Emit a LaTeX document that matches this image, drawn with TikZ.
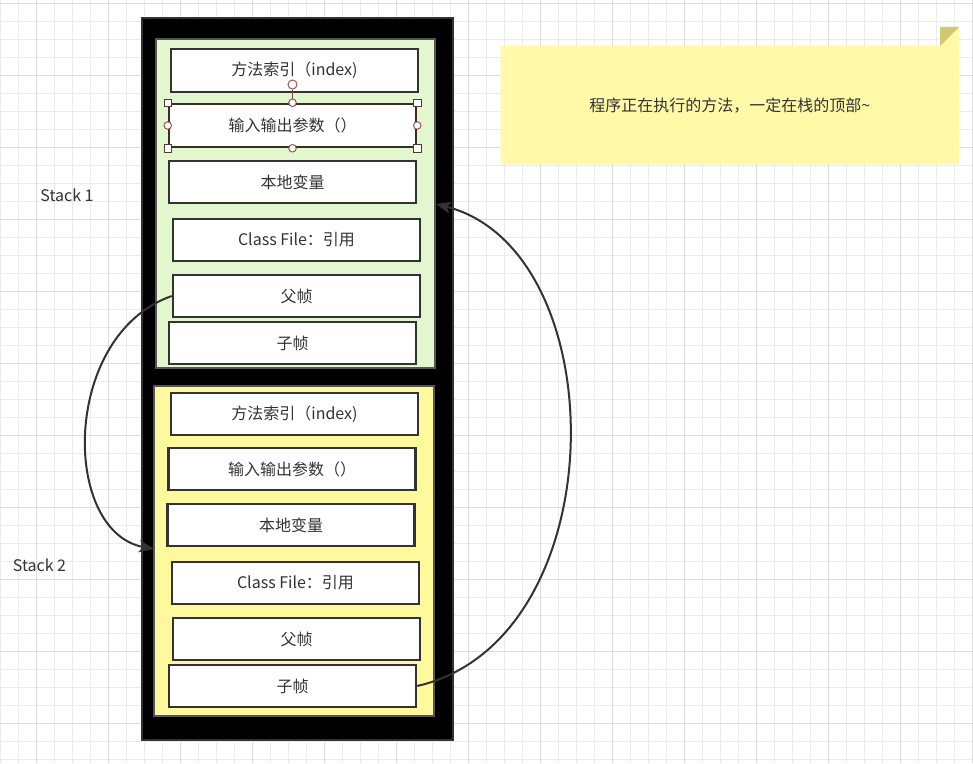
\documentclass[tikz,border=0pt]{standalone}
\usepackage{fontspec}
\setmainfont{Noto Sans CJK SC}
\usetikzlibrary{arrows.meta}
\definecolor{gridminor}{HTML}{EBEBEB}
\definecolor{gridmajor}{HTML}{DDDDDD}
\definecolor{boxline}{HTML}{333333}
\definecolor{txt}{HTML}{333333}
\definecolor{greenfill}{HTML}{E3F7CF}
\definecolor{yellowfill}{HTML}{FFF99E}
\definecolor{panelline}{HTML}{555555}
\definecolor{notefill}{HTML}{FFF9A8}
\definecolor{notefold}{HTML}{D2C772}
\definecolor{selline}{HTML}{3B2B25}
\definecolor{handlecol}{HTML}{9A5555}
\definecolor{conncol}{HTML}{333333}
\begin{document}
\begin{tikzpicture}[x=1pt,y=-1pt,
  every node/.style={font=\fontsize{16}{19}\selectfont, text=txt},
  gmin/.style={draw=gridminor, line width=1pt},
  gmaj/.style={draw=gridmajor, line width=1pt},
  frame/.style={draw=boxline, fill=black, line width=1.5pt, minimum width=311pt, minimum height=722pt, inner sep=0pt},
  panel/.style={draw=panelline, line width=2pt, minimum width=280pt, minimum height=330pt, inner sep=0pt},
  cell/.style={draw=boxline, fill=white, line width=2.5pt, minimum width=247pt, minimum height=42pt, inner sep=0pt},
  handlecirc/.style={circle, draw=handlecol, fill=white, line width=1pt, minimum size=7.5pt, inner sep=0pt},
  handlesq/.style={rectangle, draw=selline!70!handlecol, fill=white, line width=1pt, minimum size=7.5pt, inner sep=0pt},
  conn/.style={draw=conncol, line width=2pt, -{Stealth[length=15pt,width=12pt,inset=4pt]}},
  label/.style={inner sep=0pt}
]
\useasboundingbox (0,0) rectangle (973,763);
\fill[white] (0,0) rectangle (973,763);
% grid
\foreach \k in {0,...,54} \draw[gmin] ({0.5+18*\k},0) -- ({0.5+18*\k},763);
\foreach \k in {0,...,42} \draw[gmin] (0,{3.3+18*\k}) -- (973,{3.3+18*\k});
\foreach \k in {0,...,13} \draw[gmaj] ({36.5+72*\k},0) -- ({36.5+72*\k},763);
\foreach \k in {0,...,10} \draw[gmaj] (0,{3.3+72*\k}) -- (973,{3.3+72*\k});

% outer frame and panels
\node[frame] (frame) at (297.5,379) {};
\node[panel, fill=greenfill, minimum width=279.5pt, minimum height=329.5pt] (gpanel) at (295.25,203.25) {};
\node[panel, fill=yellowfill] (ypanel) at (294,551) {};

% stack 1 cells
\node[cell, minimum height=43pt] (g1) at (294.5,70.5) {方法索引（index)};
\node[cell, draw=selline, minimum height=43pt] (g2) at (292.5,125.5) {输入输出参数（）};
\node[cell] (g3) at (292.5,182) {本地变量};
\node[cell] (g4) at (296.5,240) {Class File：引用};
\node[cell] (g5) at (296.5,296) {父帧};
\node[cell] (g6) at (292.5,343) {子帧};

% stack 2 cells
\node[cell] (y1) at (294.5,414) {方法索引（index)};
\node[cell] (y2) at (292,469) {输入输出参数（）};
\node[cell] (y3) at (291,525) {本地变量};
\node[cell] (y4) at (295.5,583) {Class File：引用};
\node[cell] (y5) at (296.5,639) {父帧};
\node[cell] (y6) at (292.5,686) {子帧};

% selection handles on g2
\node[handlecirc, minimum size=9pt] (rot) at (292.5,84.5) {};
\draw[draw=handlecol!80!black, line width=1.2pt] (rot.south) -- (g2.north);
\node[handlecirc] (hn) at (g2.north) {};
\node[handlecirc] (hs) at (g2.south) {};
\node[handlecirc] (hw) at (g2.west) {};
\node[handlecirc] (he) at (g2.east) {};
\node[handlesq] (hnw) at (g2.north west) {};
\node[handlesq] (hne) at (g2.north east) {};
\node[handlesq] (hsw) at (g2.south west) {};
\node[handlesq] (hse) at (g2.south east) {};

% labels
\node[label] (s1) at (67,195) {Stack 1};
\node[label] (s2) at (39.5,565) {Stack 2};

% note
\node[label, minimum width=458pt, minimum height=118pt] (note) at (729.85,105.15) {};
\fill[notefill] (note.north west) -- ([xshift=-19pt]note.north east) -- ([yshift=19pt]note.north east) -- (note.south east) -- (note.south west) -- cycle;
\fill[notefold] ([xshift=-19pt]note.north east) -- ([xshift=-19pt,yshift=19pt]note.north east) -- ([yshift=19pt]note.north east) -- cycle;
\node[label] (notetext) at (note.center) {程序正在执行的方法，一定在栈的顶部\textasciitilde};

% connectors
\coordinate (t1) at (154,549);
\coordinate (t2) at (436,204);
\draw[conn] (g5.west) .. controls (61,335) and (61,532) .. (t1);
\draw[conn] (y6.east) .. controls (617,640) and (617,250) .. (t2);
\end{tikzpicture}
\end{document}
